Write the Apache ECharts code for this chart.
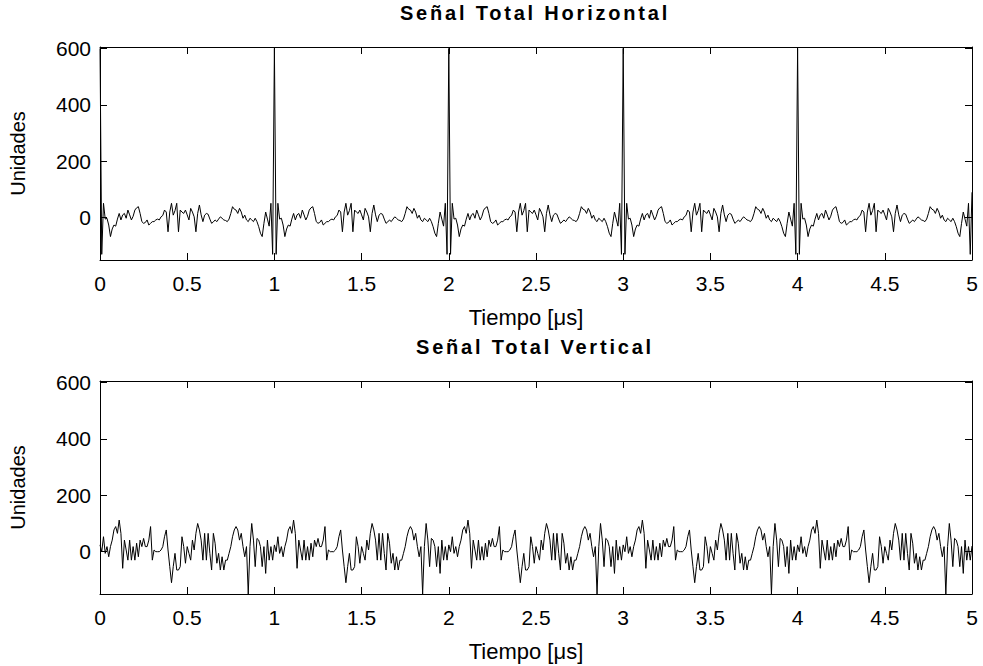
<!DOCTYPE html>
<html>
<head>
<meta charset="utf-8">
<script src="https://cdn.jsdelivr.net/npm/echarts@6/dist/echarts.min.js"></script>
<style>
  html, body { margin: 0; padding: 0; background: #fff; }
  #chartContainer { width: 983px; height: 666px; }
</style>
</head>
<body>
<div id="chartContainer"></div>
<script>
// one period (1 us, 100 samples); the signal repeats every us
var periodHoriz = [
  600, -130, 51, -5, -2, -26, -67, -40, -26, -30,
  -5, 15, -8, 10, 15, -2, 27, 10, -8, 5,
  27, 35, 39, 15, -14, -20, -17, -8, -26, -20,
  -14, -14, -8, -5, -8, 3, 8, 27, 20, -50,
  20, 51, 9, 25, 51, -50, 27, 20, 15, 27,
  10, -8, 33, 20, 3, -50, 15, 45, 10, -14,
  9, 15, 12, -5, -20, -15, -8, -14, -5, 3,
  -2, -8, -10, -14, -5, 15, 39, 30, 27, 15,
  33, 20, -2, 9, -8, -14, -2, -8, -14, -2,
  -14, -32, -55, -67, -20, 20, -5, -30, 51, -130
];
var periodVert = [
  24, 0, 53, -6, 18, -18, 18, 41, 77, 89,
  65, 112, 65, -59, 41, 6, -30, 41, -30, 18,
  -30, 30, -18, 41, 18, 47, 18, 18, 41, 89,
  -30, 6, 0, 0, 0, 6, 18, 53, 77, 6,
  -53, -110, -53, -6, -65, -65, -53, 53, 18, -41,
  18, -6, -30, 41, 6, 65, 100, 77, 41, -30,
  65, -30, 65, -6, -65, 65, 30, -41, -6, -65,
  -18, -65, -30, -30, -6, 18, 53, 77, 89, 77,
  41, 65, 18, -18, 18, -150, 18, 100, 41, -53,
  47, 41, 18, -53, 18, -77, 41, -30, 18, -30
];
var periods = 5;          // 0 .. 5 us
var lastHoriz = 90;       // value at x = 5 (spike cut by the axis)
var lastVert = 20;

var yTicks = [0, 200, 400, 600];
var titles = ['Señal Total Horizontal', 'Señal Total Vertical'];

function buildSeries(period, lastVal) {
  var out = [];
  for (var k = 0; k < periods; k++) {
    for (var i = 0; i < period.length; i++) {
      out.push([k + i / period.length, period[i]]);
    }
  }
  out.push([periods, lastVal]);
  return out;
}

var horizData = buildSeries(periodHoriz, lastHoriz);
var vertData = buildSeries(periodVert, lastVert);

var FONT = 'Liberation Sans, Arial, sans-serif';
var YMIN = -150, YMAX = 605;

function xAx(grid, bottom) {
  return {
    type: 'value', gridIndex: grid, min: 0, max: 5, interval: 0.5,
    position: bottom ? 'bottom' : 'top',
    name: bottom ? 'Tiempo [\u03bcs]' : '',
    nameLocation: 'middle', nameGap: 46,
    nameTextStyle: { fontFamily: FONT, fontSize: 22, color: '#000', padding: [0, 20, 0, 0] },
    axisLine: { show: true, onZero: false, lineStyle: { color: '#000', width: 1 } },
    axisTick: { show: true, inside: true, length: 7, lineStyle: { color: '#000' } },
    axisLabel: { show: bottom, margin: 13, fontFamily: FONT, fontSize: 21, color: '#000' },
    splitLine: { show: false }
  };
}
function yAx(grid, left) {
  return {
    type: 'value', gridIndex: grid, min: YMIN, max: YMAX,
    position: left ? 'left' : 'right',
    name: left ? 'Unidades' : '',
    nameLocation: 'middle', nameGap: 72, nameRotate: 90,
    nameTextStyle: { fontFamily: FONT, fontSize: 20, color: '#000' },
    axisLine: { show: true, onZero: false, lineStyle: { color: '#000', width: 1 } },
    axisTick: { show: true, inside: true, length: 7, customValues: yTicks, lineStyle: { color: '#000' } },
    axisLabel: { show: left, margin: 9, customValues: yTicks, fontFamily: FONT, fontSize: 21, color: '#000' },
    splitLine: { show: false }
  };
}

var chartDom = document.getElementById('chartContainer');
var myChart = echarts.init(chartDom, null, { renderer: 'svg' });

var option = {
  animation: false,
  backgroundColor: '#fff',
  title: [
    { text: titles[0], left: 535, textAlign: 'center', top: 3, padding: 0,
      textStyle: { fontFamily: FONT, fontSize: 20, fontWeight: 'bold', color: '#000' } },
    { text: titles[1], left: 535, textAlign: 'center', top: 337, padding: 0,
      textStyle: { fontFamily: FONT, fontSize: 20, fontWeight: 'bold', color: '#000' } }
  ],
  grid: [
    { left: 100, right: 11, top: 47, height: 213 },
    { left: 100, right: 11, top: 381, height: 213 }
  ],
  xAxis: [xAx(0, true), xAx(0, false), xAx(1, true), xAx(1, false)],
  yAxis: [yAx(0, true), yAx(0, false), yAx(1, true), yAx(1, false)],
  series: [
    { type: 'line', xAxisIndex: 0, yAxisIndex: 0, data: horizData, showSymbol: false,
      lineStyle: { color: '#000', width: 1 }, clip: true },
    { type: 'line', xAxisIndex: 2, yAxisIndex: 2, data: vertData, showSymbol: false,
      lineStyle: { color: '#000', width: 1 }, clip: true }
  ]
};

myChart.setOption(option);

// the titles in the original are spaced out wider than the plain font
chartDom.querySelectorAll('text').forEach(function (el) {
  if (titles.indexOf(el.textContent) >= 0) {
    el.style.letterSpacing = '2.8px';
  }
});
</script>
</body>
</html>
